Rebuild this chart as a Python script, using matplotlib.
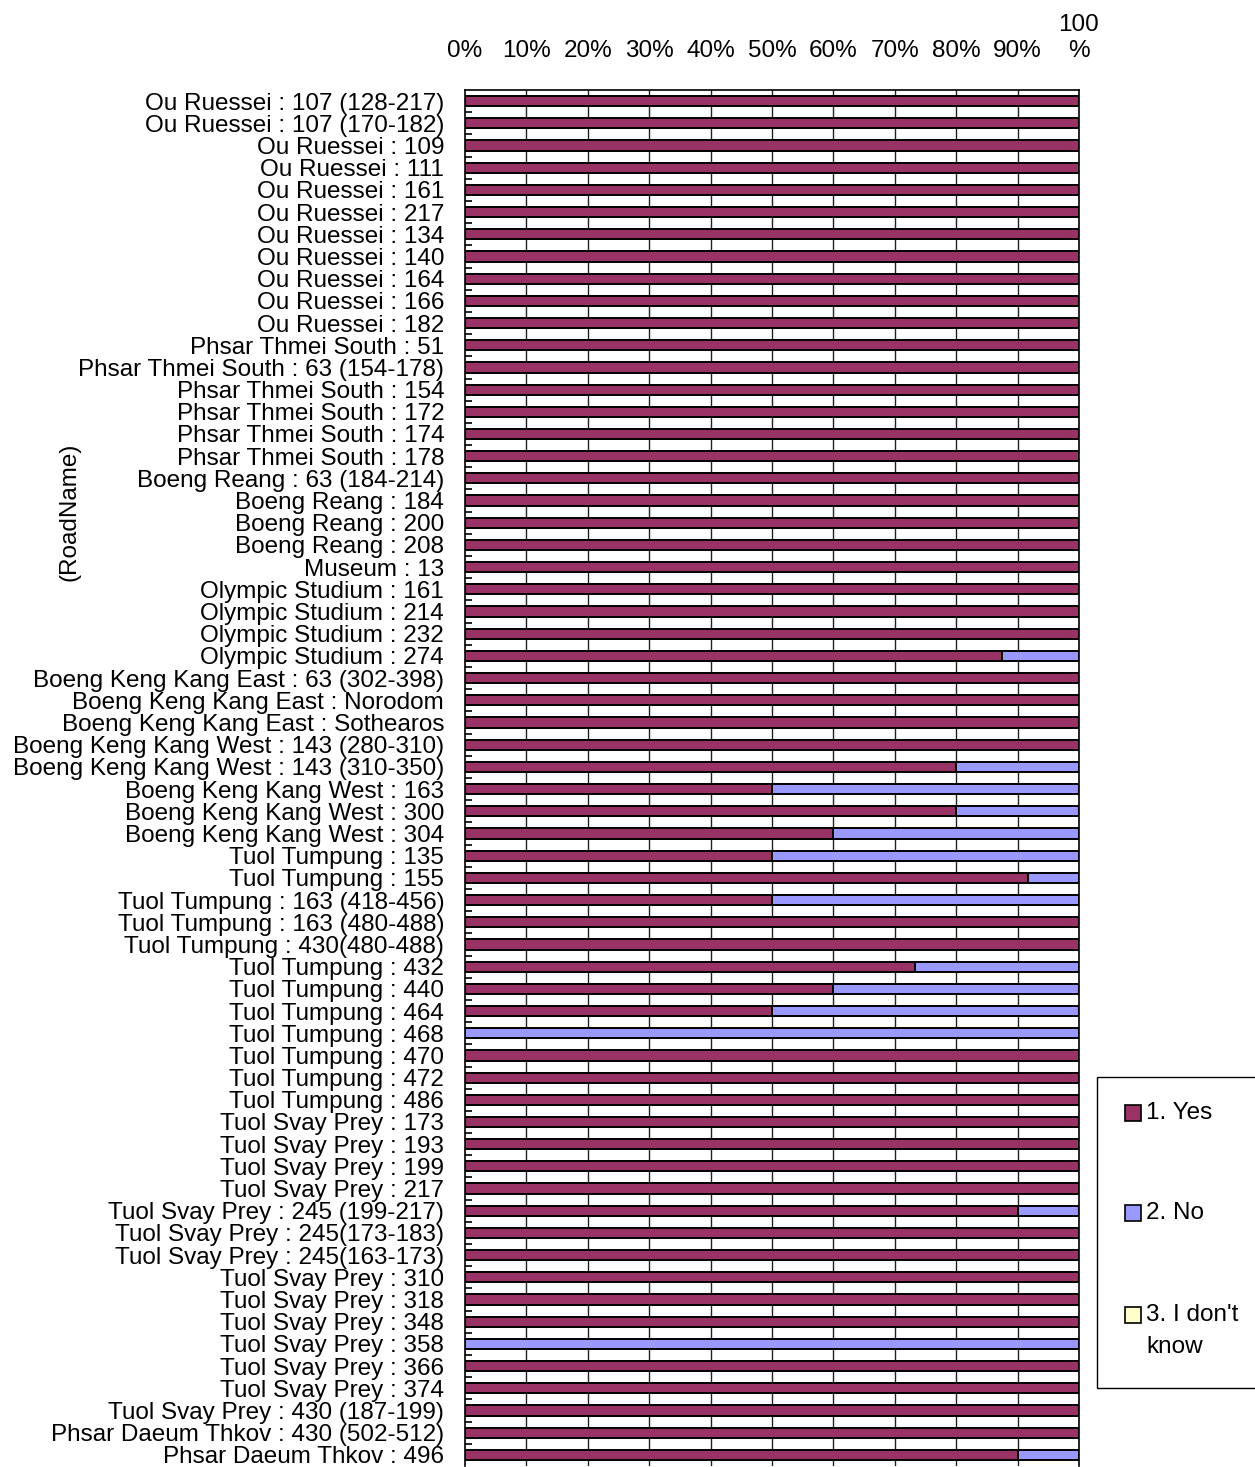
import matplotlib
matplotlib.use("Agg")
import matplotlib.pyplot as plt
from matplotlib.patches import Rectangle
import numpy as np

plt.rcParams['font.family'] = ['Liberation Sans', 'DejaVu Sans']

road_names = [
    "Ou Ruessei : 107 (128-217)", "Ou Ruessei : 107 (170-182)", "Ou Ruessei : 109",
    "Ou Ruessei : 111", "Ou Ruessei : 161", "Ou Ruessei : 217", "Ou Ruessei : 134",
    "Ou Ruessei : 140", "Ou Ruessei : 164", "Ou Ruessei : 166", "Ou Ruessei : 182",
    "Phsar Thmei South : 51", "Phsar Thmei South : 63 (154-178)", "Phsar Thmei South : 154",
    "Phsar Thmei South : 172", "Phsar Thmei South : 174", "Phsar Thmei South : 178",
    "Boeng Reang : 63 (184-214)", "Boeng Reang : 184", "Boeng Reang : 200", "Boeng Reang : 208",
    "Museum : 13", "Olympic Studium : 161", "Olympic Studium : 214", "Olympic Studium : 232",
    "Olympic Studium : 274", "Boeng Keng Kang East : 63 (302-398)",
    "Boeng Keng Kang East : Norodom", "Boeng Keng Kang East : Sothearos",
    "Boeng Keng Kang West : 143 (280-310)", "Boeng Keng Kang West : 143 (310-350)",
    "Boeng Keng Kang West : 163", "Boeng Keng Kang West : 300", "Boeng Keng Kang West : 304",
    "Tuol Tumpung : 135", "Tuol Tumpung : 155", "Tuol Tumpung : 163 (418-456)",
    "Tuol Tumpung : 163 (480-488)", "Tuol Tumpung : 430(480-488)", "Tuol Tumpung : 432",
    "Tuol Tumpung : 440", "Tuol Tumpung : 464", "Tuol Tumpung : 468", "Tuol Tumpung : 470",
    "Tuol Tumpung : 472", "Tuol Tumpung : 486", "Tuol Svay Prey : 173", "Tuol Svay Prey : 193",
    "Tuol Svay Prey : 199", "Tuol Svay Prey : 217", "Tuol Svay Prey : 245 (199-217)",
    "Tuol Svay Prey : 245(173-183)", "Tuol Svay Prey : 245(163-173)", "Tuol Svay Prey : 310",
    "Tuol Svay Prey : 318", "Tuol Svay Prey : 348", "Tuol Svay Prey : 358",
    "Tuol Svay Prey : 366", "Tuol Svay Prey : 374", "Tuol Svay Prey : 430 (187-199)",
    "Phsar Daeum Thkov : 430 (502-512)", "Phsar Daeum Thkov : 496",
]

yes_pct = [100, 100, 100, 100, 100, 100, 100, 100, 100, 100, 100,
           100, 100, 100, 100, 100, 100,
           100, 100, 100, 100,
           100, 100, 100, 100, 87.5,
           100, 100, 100,
           100, 80, 50, 80, 60,
           50, 91.7, 50, 100, 100, 73.3, 60, 50, 0, 100, 100, 100,
           100, 100, 100, 100, 90, 100, 100, 100, 100, 100, 0, 100, 100, 100,
           100, 90]
no_pct = [round(100 - v, 1) for v in yes_pct]
dk_pct = [0] * len(yes_pct)

series_names = ["1. Yes", "2. No", "3. I don't know"]
series_colors = ["#993366", "#9999FF", "#FFFFCC"]
x_tick_labels = ["0%", "10%", "20%", "30%", "40%", "50%", "60%", "70%", "80%", "90%", "100\n%"]

FS = 17.5
W, H = 1255, 1467
fig = plt.figure(figsize=(W / 100, H / 100), dpi=100)
ax = fig.add_axes([465 / W, 1 / H, (1079 - 465) / W, (1466 - 90) / H])

n = len(road_names)
ypos = np.arange(n)
left = np.zeros(n)
for vals, col in zip([yes_pct, no_pct, dk_pct], series_colors):
    v = np.array(vals, dtype=float)
    ax.barh(ypos, v, left=left, height=0.46, color=col, edgecolor="black",
            linewidth=1.4, zorder=3)
    left += v

ax.set_xlim(0, 100)
ax.set_ylim(n - 0.5, -0.5)

ax.set_xticks(np.arange(0, 101, 10))
ax.set_xticklabels(x_tick_labels, fontsize=FS, linespacing=1.25)
ax.xaxis.tick_top()
ax.tick_params(axis='x', length=0, pad=20)
for x in np.arange(10, 100, 10):
    ax.axvline(x, color="#222222", linewidth=1.0, zorder=1)

ax.set_yticks(ypos)
ax.set_yticklabels(road_names, fontsize=FS)
ax.tick_params(axis='y', which='major', length=0, pad=15)
ax.set_yticks(ypos[:-1] + 0.5, minor=True)
ax.tick_params(axis='y', which='minor', direction='in', length=5, width=1.2, color='black')

for s in ['top', 'left', 'right']:
    ax.spines[s].set_color('black')
    ax.spines[s].set_linewidth(1.2)
ax.spines['bottom'].set_visible(False)

fig.text(70 / W, 1 - 512 / H, "(RoadName)", rotation=90, ha='center', va='center', fontsize=FS)

# legend box
lx0, ly0, lx1, ly1 = 1097, 1077, 1262, 1388
fig.patches.append(Rectangle((lx0 / W, 1 - ly1 / H), (lx1 - lx0) / W, (ly1 - ly0) / H,
                             transform=fig.transFigure, facecolor='white', edgecolor='black',
                             linewidth=1.0, clip_on=False))
entry_y = [1113, 1213, 1315]
legend_text = [["1. Yes"], ["2. No"], ["3. I don't", "know"]]
for yy, col, lines in zip(entry_y, series_colors, legend_text):
    fig.patches.append(Rectangle((1125 / W, 1 - (yy + 8) / H), 16 / W, 16 / H,
                                 transform=fig.transFigure, facecolor=col, edgecolor='black',
                                 linewidth=1.2))
    for k, t in enumerate(lines):
        fig.text(1146 / W, 1 - (yy + 32 * k) / H, t, ha='left', va='center', fontsize=FS)

fig.savefig("out.png", dpi=100)
